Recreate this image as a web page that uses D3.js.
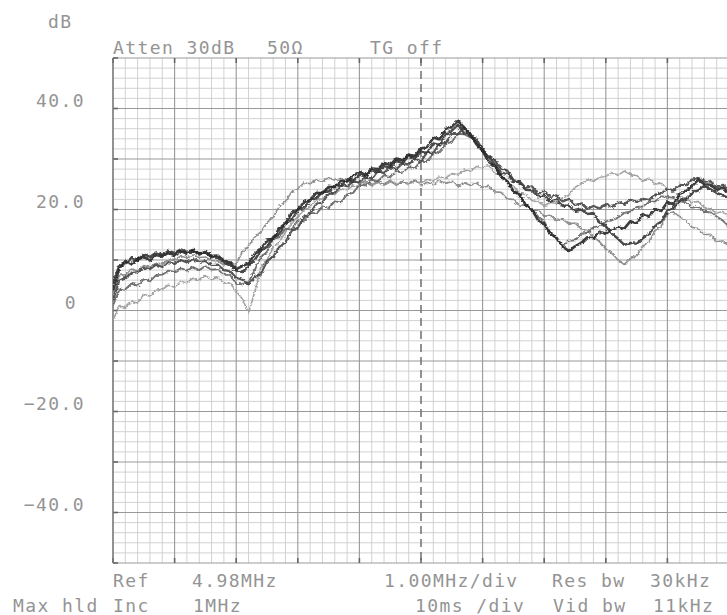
<!DOCTYPE html>
<html>
<head>
<meta charset="utf-8">
<script src="https://cdn.jsdelivr.net/npm/d3@7"></script>
<style>
  html, body { margin: 0; padding: 0; background: #ffffff; }
  svg { display: block; }
  text { font-family: "DejaVu Sans Mono", monospace; fill: #949494; }
</style>
</head>
<body>
<svg id="chart" width="727" height="615"></svg>
<script>
// Analyzer sweep settings
const centerMHz = 4.98;
const mhzPerDiv = 1.0;
const divisions = 10;
const sampleStepMHz = 0.1;

// Level axis (dB)
const dbTop = 50;
const dbBottom = -50;
const dbPerDiv = 10;
const levelTicks = [40, 20, 0, -20, -40];

// Max-hold sweeps, dB, one value per 0.1 MHz from the left edge
const sweepA = [4.0,8.3,9.8,9.2,10.1,10.6,9.9,11.0,10.7,11.4,11.0,11.8,11.2,11.9,11.1,11.6,10.8,10.9,9.9,9.5,
  8.2,8.8,9.3,11.2,12.2,13.8,14.1,16.3,17.2,19.3,19.9,21.5,21.9,23.3,23.2,24.5,24.4,25.7,25.6,26.8,
  27.4,26.9,28.1,28.0,29.2,28.8,30.1,29.7,30.9,30.6,32.1,32.4,34.2,33.9,35.9,36.4,37.6,36.2,34.8,32.9,
  31.6,29.4,28.6,26.5,25.6,23.6,22.9,20.8,20.0,17.9,17.1,15.3,14.4,12.6,11.8,12.7,13.4,14.5,14.3,15.6,
  15.2,16.0,16.5,16.2,17.7,17.2,19.1,18.6,20.1,19.7,21.5,21.0,23.1,23.6,24.6,25.9,25.0,24.9,23.9,24.3,23.2];

const sweepB = [2.0,5.9,6.5,7.4,7.6,8.5,8.2,9.1,8.6,9.6,9.2,10.0,9.5,10.2,9.6,9.8,9.0,9.1,8.0,7.8,
  6.5,6.1,5.2,6.6,7.2,9.8,10.6,12.6,13.5,15.8,16.4,18.5,19.2,21.1,21.4,23.1,23.3,24.9,24.6,25.5,
  25.4,26.4,26.1,27.6,27.2,28.4,28.0,29.1,28.9,30.0,29.6,31.3,31.2,33.0,33.2,35.0,34.9,36.3,34.4,34.0,
  31.8,30.6,29.0,27.3,27.1,25.4,25.6,24.3,24.6,23.1,23.7,22.5,22.8,21.6,22.1,20.9,21.2,20.1,20.7,20.2,
  21.1,20.5,21.5,21.0,22.0,21.5,22.1,21.9,22.9,23.2,24.1,23.8,24.9,24.8,25.9,26.3,25.5,25.6,24.4,24.9,24.0];

const sweepC = [3.0,6.9,7.1,8.2,7.8,8.9,8.6,9.4,9.2,10.1,9.9,10.8,10.4,11.0,10.5,10.6,9.9,9.8,9.0,9.4,
  9.2,11.6,12.8,14.5,15.6,17.4,18.5,20.6,21.6,23.5,24.0,25.3,25.1,25.9,25.5,26.4,25.8,26.2,25.4,25.9,
  25.1,25.7,24.9,25.6,25.0,25.8,24.8,25.5,25.2,25.9,24.7,25.4,24.9,25.8,25.1,25.6,24.6,25.3,24.8,25.2,
  24.4,24.6,23.5,23.4,22.1,22.0,20.6,21.0,19.7,19.9,18.6,18.9,17.8,18.1,17.1,17.3,16.2,15.8,14.6,13.6,
  12.2,11.3,10.0,9.1,10.3,10.8,12.8,13.6,15.8,16.7,19.2,19.5,18.6,17.8,16.5,16.2,15.0,15.1,13.6,13.8,12.7];

const sweepD = [-2.0,1.0,0.6,1.8,1.5,3.2,2.8,4.0,4.2,5.0,4.6,5.8,5.5,6.4,6.0,6.9,6.1,6.6,5.4,5.5,
  3.8,2.3,-0.5,3.6,8.6,10.0,12.5,13.6,15.5,17.2,18.6,19.9,20.6,21.9,22.1,23.2,23.0,24.1,23.9,24.8,
  24.5,25.3,24.7,25.4,24.8,25.5,25.0,25.6,24.9,25.7,25.3,26.0,25.6,26.5,26.2,27.1,26.9,27.8,27.6,28.5,
  28.3,28.7,27.2,26.8,25.3,24.6,23.2,23.0,21.8,21.5,20.8,21.4,21.2,22.3,22.8,24.4,25.1,25.9,25.6,26.4,
  26.5,27.3,26.8,27.6,26.9,26.7,25.6,26.2,25.0,25.2,24.1,23.5,22.6,22.2,21.4,21.6,20.4,20.1,19.3,19.6,18.7];

const sweepE = [1.0,4.0,4.2,5.3,4.9,6.2,5.8,7.0,7.1,7.9,7.6,8.4,7.9,8.6,8.0,8.8,8.1,8.2,7.0,7.1,
  5.3,5.2,5.6,8.0,10.6,11.6,14.2,14.5,16.2,16.0,17.9,17.6,19.4,19.1,20.6,20.3,21.6,21.4,23.0,23.3,
  24.9,24.8,25.9,25.6,26.8,26.4,27.6,27.3,28.4,28.2,29.6,29.6,31.0,31.4,33.0,33.4,35.0,34.9,34.3,33.5,
  31.4,30.2,28.4,26.5,25.6,23.8,23.1,21.0,20.1,18.6,17.7,15.2,14.2,12.7,13.8,13.9,15.2,15.4,16.5,16.7,
  17.6,17.9,18.4,19.3,19.6,20.5,20.6,21.5,21.6,22.6,22.5,22.3,21.6,21.4,20.4,20.5,19.6,19.4,18.6,17.8,16.6];

const sweepF = [5.5,8.8,9.3,10.4,10.0,11.1,10.6,11.5,11.0,11.8,11.4,12.1,11.6,12.0,11.3,11.5,10.6,10.4,9.5,8.9,
  7.9,7.6,8.8,10.0,11.9,12.6,14.6,15.2,17.4,17.9,19.9,20.3,21.9,22.2,23.5,23.6,24.8,24.7,25.9,25.7,
  26.9,26.5,27.8,27.4,28.6,28.3,29.6,29.2,30.6,30.1,31.5,31.2,33.1,32.8,34.9,35.6,36.8,35.1,35.0,33.2,
  32.0,30.4,29.8,28.1,27.7,25.8,25.3,23.9,23.8,22.6,22.8,21.6,21.9,20.7,20.8,19.7,20.0,19.1,19.3,17.4,
  16.7,15.2,14.2,13.0,13.4,13.2,14.3,15.1,16.8,17.6,19.8,20.3,21.7,22.1,23.3,23.8,24.7,24.0,23.3,22.8,22.2];

// Text printed by the analyzer
const headerText = ["Atten 30dB", "50\u03a9", "TG off"];
const footerRow1 = ["Ref", "4.98MHz", "1.00MHz/div", "Res bw", "30kHz"];
const footerRow2 = ["Max hld", "Inc", "1MHz", "10ms /div", "Vid bw", "11kHz"];
const unitLabel = "dB";

const sweeps = [
  { values: sweepD, color: "#9a9a9a", width: 1.6 },
  { values: sweepC, color: "#858585", width: 1.6 },
  { values: sweepE, color: "#666666", width: 1.9 },
  { values: sweepB, color: "#474747", width: 2.2 },
  { values: sweepF, color: "#3a3a3a", width: 2.4 },
  { values: sweepA, color: "#2a2a2a", width: 2.6 }
];

const svg = d3.select("#chart");
const plot = { left: 113, top: 58, right: 729, bottom: 563 };

const fStart = centerMHz - mhzPerDiv * divisions / 2;
const fStop = centerMHz + mhzPerDiv * divisions / 2;

const x = d3.scaleLinear().domain([fStart, fStop]).range([plot.left, plot.right]);
const y = d3.scaleLinear().domain([dbBottom, dbTop]).range([plot.bottom, plot.top]);

const defs = svg.append("defs");
defs.append("clipPath").attr("id", "plotClip")
  .append("rect")
  .attr("x", plot.left).attr("y", plot.top - 2)
  .attr("width", plot.right - plot.left).attr("height", plot.bottom - plot.top + 4);

// pen-plotter roughness for the traces
const rough = defs.append("filter").attr("id", "penRough")
  .attr("x", "-5%").attr("y", "-5%").attr("width", "110%").attr("height", "110%");
rough.append("feTurbulence").attr("type", "fractalNoise")
  .attr("baseFrequency", "0.3 0.5").attr("numOctaves", 2).attr("seed", 7).attr("result", "n");
rough.append("feDisplacementMap").attr("in", "SourceGraphic").attr("in2", "n")
  .attr("scale", 3.5).attr("xChannelSelector", "R").attr("yChannelSelector", "G");

// Graticule: 5 minor lines per division in both directions
const grid = svg.append("g");
const minorX = d3.range(0, divisions * 5 + 1).map(k => fStart + k * mhzPerDiv / 5);
const minorY = d3.range(0, (dbTop - dbBottom) / dbPerDiv * 5 + 1).map(k => dbBottom + k * dbPerDiv / 5);

grid.selectAll("line.mx").data(minorX.filter((d, k) => k % 5 !== 0)).join("line")
  .attr("x1", d => x(d)).attr("x2", d => x(d))
  .attr("y1", plot.top).attr("y2", plot.bottom)
  .attr("stroke", "#cdcdcd").attr("stroke-width", 0.9);
grid.selectAll("line.my").data(minorY.filter((d, k) => k % 5 !== 0)).join("line")
  .attr("x1", plot.left).attr("x2", plot.right)
  .attr("y1", d => y(d)).attr("y2", d => y(d))
  .attr("stroke", "#cdcdcd").attr("stroke-width", 0.9);

const majorX = minorX.filter((d, k) => k % 5 === 0);
const majorY = minorY.filter((d, k) => k % 5 === 0);
const centerIdx = divisions / 2;

grid.selectAll("line.Mx").data(majorX.filter((d, k) => k !== centerIdx)).join("line")
  .attr("x1", d => x(d)).attr("x2", d => x(d))
  .attr("y1", plot.top).attr("y2", plot.bottom)
  .attr("stroke", "#999").attr("stroke-width", 1.1);
grid.selectAll("line.My").data(majorY).join("line")
  .attr("x1", plot.left).attr("x2", plot.right)
  .attr("y1", d => y(d)).attr("y2", d => y(d))
  .attr("stroke", "#999").attr("stroke-width", 1.1);

// centre-frequency marker
grid.append("line")
  .attr("x1", x(centerMHz)).attr("x2", x(centerMHz))
  .attr("y1", plot.top).attr("y2", plot.bottom)
  .attr("stroke", "#777").attr("stroke-width", 1.6)
  .attr("stroke-dasharray", "8,5");

// short dark ticks on the frame at each division
grid.selectAll("line.tt").data(majorX).join("line")
  .attr("x1", d => x(d)).attr("x2", d => x(d))
  .attr("y1", plot.top).attr("y2", plot.top + 5)
  .attr("stroke", "#666").attr("stroke-width", 1.6);
grid.selectAll("line.tb").data(majorX).join("line")
  .attr("x1", d => x(d)).attr("x2", d => x(d))
  .attr("y1", plot.bottom - 5).attr("y2", plot.bottom)
  .attr("stroke", "#666").attr("stroke-width", 1.6);
grid.selectAll("line.tl").data(majorY).join("line")
  .attr("x1", plot.left).attr("x2", plot.left + 5)
  .attr("y1", d => y(d)).attr("y2", d => y(d))
  .attr("stroke", "#666").attr("stroke-width", 1.6);
grid.append("line")
  .attr("x1", plot.left).attr("x2", plot.left)
  .attr("y1", plot.top).attr("y2", plot.bottom)
  .attr("stroke", "#777").attr("stroke-width", 1.3);

// Sweeps
const line = d3.line()
  .x((d, i) => x(fStart + i * sampleStepMHz))
  .y(d => y(d));

svg.append("g").attr("clip-path", "url(#plotClip)")
  .append("g").attr("filter", "url(#penRough)")
  .selectAll("path").data(sweeps).join("path")
  .attr("d", d => line(d.values))
  .attr("fill", "none")
  .attr("stroke", d => d.color)
  .attr("stroke-width", d => d.width)
  .attr("stroke-linejoin", "round")
  .attr("opacity", 0.92);

// Level labels
const txt = svg.append("g").style("font-size", "18px").style("letter-spacing", "1.4px");
txt.selectAll("text.lv").data(levelTicks).join("text")
  .attr("x", 85)
  .attr("y", d => y(d) - 2)
  .attr("dx", d => d === 0 ? -8 : 0)
  .attr("text-anchor", "end")
  .text(d => d === 0 ? "0" : d3.format(".1f")(d));

txt.append("text").attr("x", 48).attr("y", 28).text(unitLabel);

// Header
const headerX = [113, 267, 370];
txt.selectAll("text.hd").data(headerText).join("text")
  .attr("x", (d, i) => headerX[i]).attr("y", 54).text(d => d);

// Footer rows
const row1X = [113, 192, 384, 552, 650];
const row2X = [13, 113, 193, 415, 553, 653];
txt.selectAll("text.f1").data(footerRow1).join("text")
  .attr("x", (d, i) => row1X[i]).attr("y", 587).text(d => d).style("white-space", "pre");
txt.selectAll("text.f2").data(footerRow2).join("text")
  .attr("x", (d, i) => row2X[i]).attr("y", 612).text(d => d).style("white-space", "pre");
</script>
</body>
</html>
